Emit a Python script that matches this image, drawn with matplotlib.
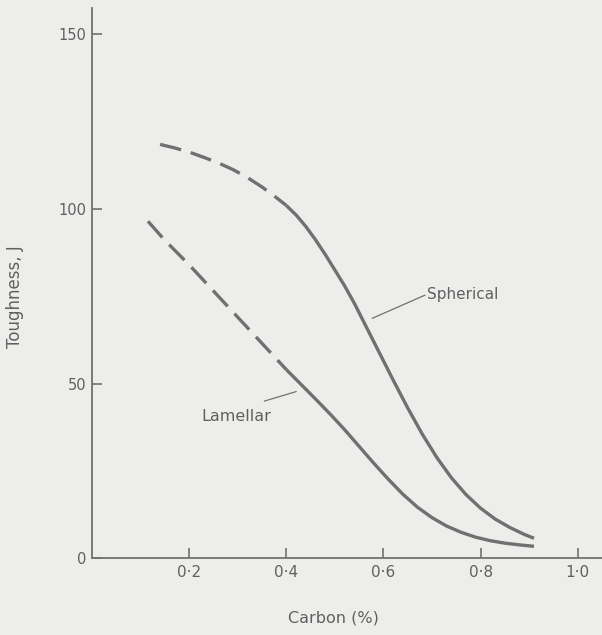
import numpy as np
import matplotlib.pyplot as plt

# values
sph_dash_x = [0.14, 0.17, 0.20, 0.23, 0.26, 0.29, 0.32, 0.35, 0.38, 0.40]
sph_dash_y = [118.5, 117.5, 116.3, 114.8, 113.2, 111.3, 109.0, 106.3, 103.2, 101]
sph_x = [0.40, 0.42, 0.44, 0.46, 0.48, 0.50, 0.52, 0.54, 0.56, 0.58, 0.60, 0.62, 0.65,
         0.68, 0.71, 0.74, 0.77, 0.80, 0.83, 0.86, 0.89, 0.91]
sph_y = [101, 98.3, 95.0, 91.2, 87.0, 82.5, 78.0, 73.0, 67.5, 62.0, 56.5, 51.0, 43.0,
         35.5, 28.8, 23.0, 18.2, 14.3, 11.2, 8.8, 6.8, 5.7]

lam_dash_x = [0.115, 0.15, 0.20, 0.25, 0.30, 0.35, 0.40]
lam_dash_y = [96.5, 91, 84, 76.5, 69, 61.5, 54]
lam_x = [0.40, 0.43, 0.46, 0.49, 0.52, 0.55, 0.58, 0.61, 0.64, 0.67, 0.70, 0.73,
         0.76, 0.79, 0.82, 0.85, 0.88, 0.91]
lam_y = [54, 49.8, 45.6, 41.3, 36.8, 32.0, 27.2, 22.6, 18.3, 14.6, 11.6, 9.2,
         7.4, 6.0, 5.0, 4.3, 3.8, 3.4]

xticks = [0.2, 0.4, 0.6, 0.8, 1.0]
xlabels = ['0·2', '0·4', '0·6', '0·8', '1·0']
yticks = [0, 50, 100, 150]

ink = '#707070'
txt = '#606060'
paper = '#ededeb'

fig = plt.figure(figsize=(6.02, 6.35), dpi=100, facecolor=paper)
ax = fig.add_axes([0.153, 0.121, 0.847, 0.866])
ax.set_facecolor(paper)

ax.plot(sph_dash_x, sph_dash_y, color=ink, lw=2.4, dashes=(6.5, 3))
ax.plot(sph_x, sph_y, color=ink, lw=2.4, solid_capstyle='butt')
ax.plot(lam_dash_x, lam_dash_y, color=ink, lw=2.4, dashes=(6.5, 3))
ax.plot(lam_x, lam_y, color=ink, lw=2.4, solid_capstyle='butt')

# labels with leader lines
ax.plot([0.577, 0.685], [68.7, 75.3], color=ink, lw=0.9)
ax.text(0.69, 75.5, 'Spherical', color=txt, fontsize=11, va='center', ha='left')
ax.plot([0.355, 0.42], [45, 47.7], color=ink, lw=0.9)
ax.text(0.225, 40.5, 'Lamellar', color=txt, fontsize=11.5, va='center', ha='left')

ax.set_xlim(0, 1.05)
ax.set_ylim(0, 157.5)
ax.set_xticks(xticks)
ax.set_xticklabels(xlabels)
ax.set_yticks(yticks)
ax.tick_params(direction='in', length=7, width=1.2, color=ink, labelcolor=txt,
               labelsize=11)
ax.tick_params(axis='x', pad=5)
ax.tick_params(axis='y', pad=4, labelsize=10.5)
for s in ['top', 'right']:
    ax.spines[s].set_visible(False)
for s in ['left', 'bottom']:
    ax.spines[s].set_color(ink)
    ax.spines[s].set_linewidth(1.3)

fig.text(333 / 602, 1 - 618 / 635, 'Carbon (%)', color=txt, fontsize=11.5,
         ha='center', va='center')
fig.text(15 / 602, 1 - 297 / 635, 'Toughness, J', color=txt, fontsize=12,
         ha='center', va='center', rotation=90)

fig.savefig('out.png', dpi=100, facecolor=paper)
